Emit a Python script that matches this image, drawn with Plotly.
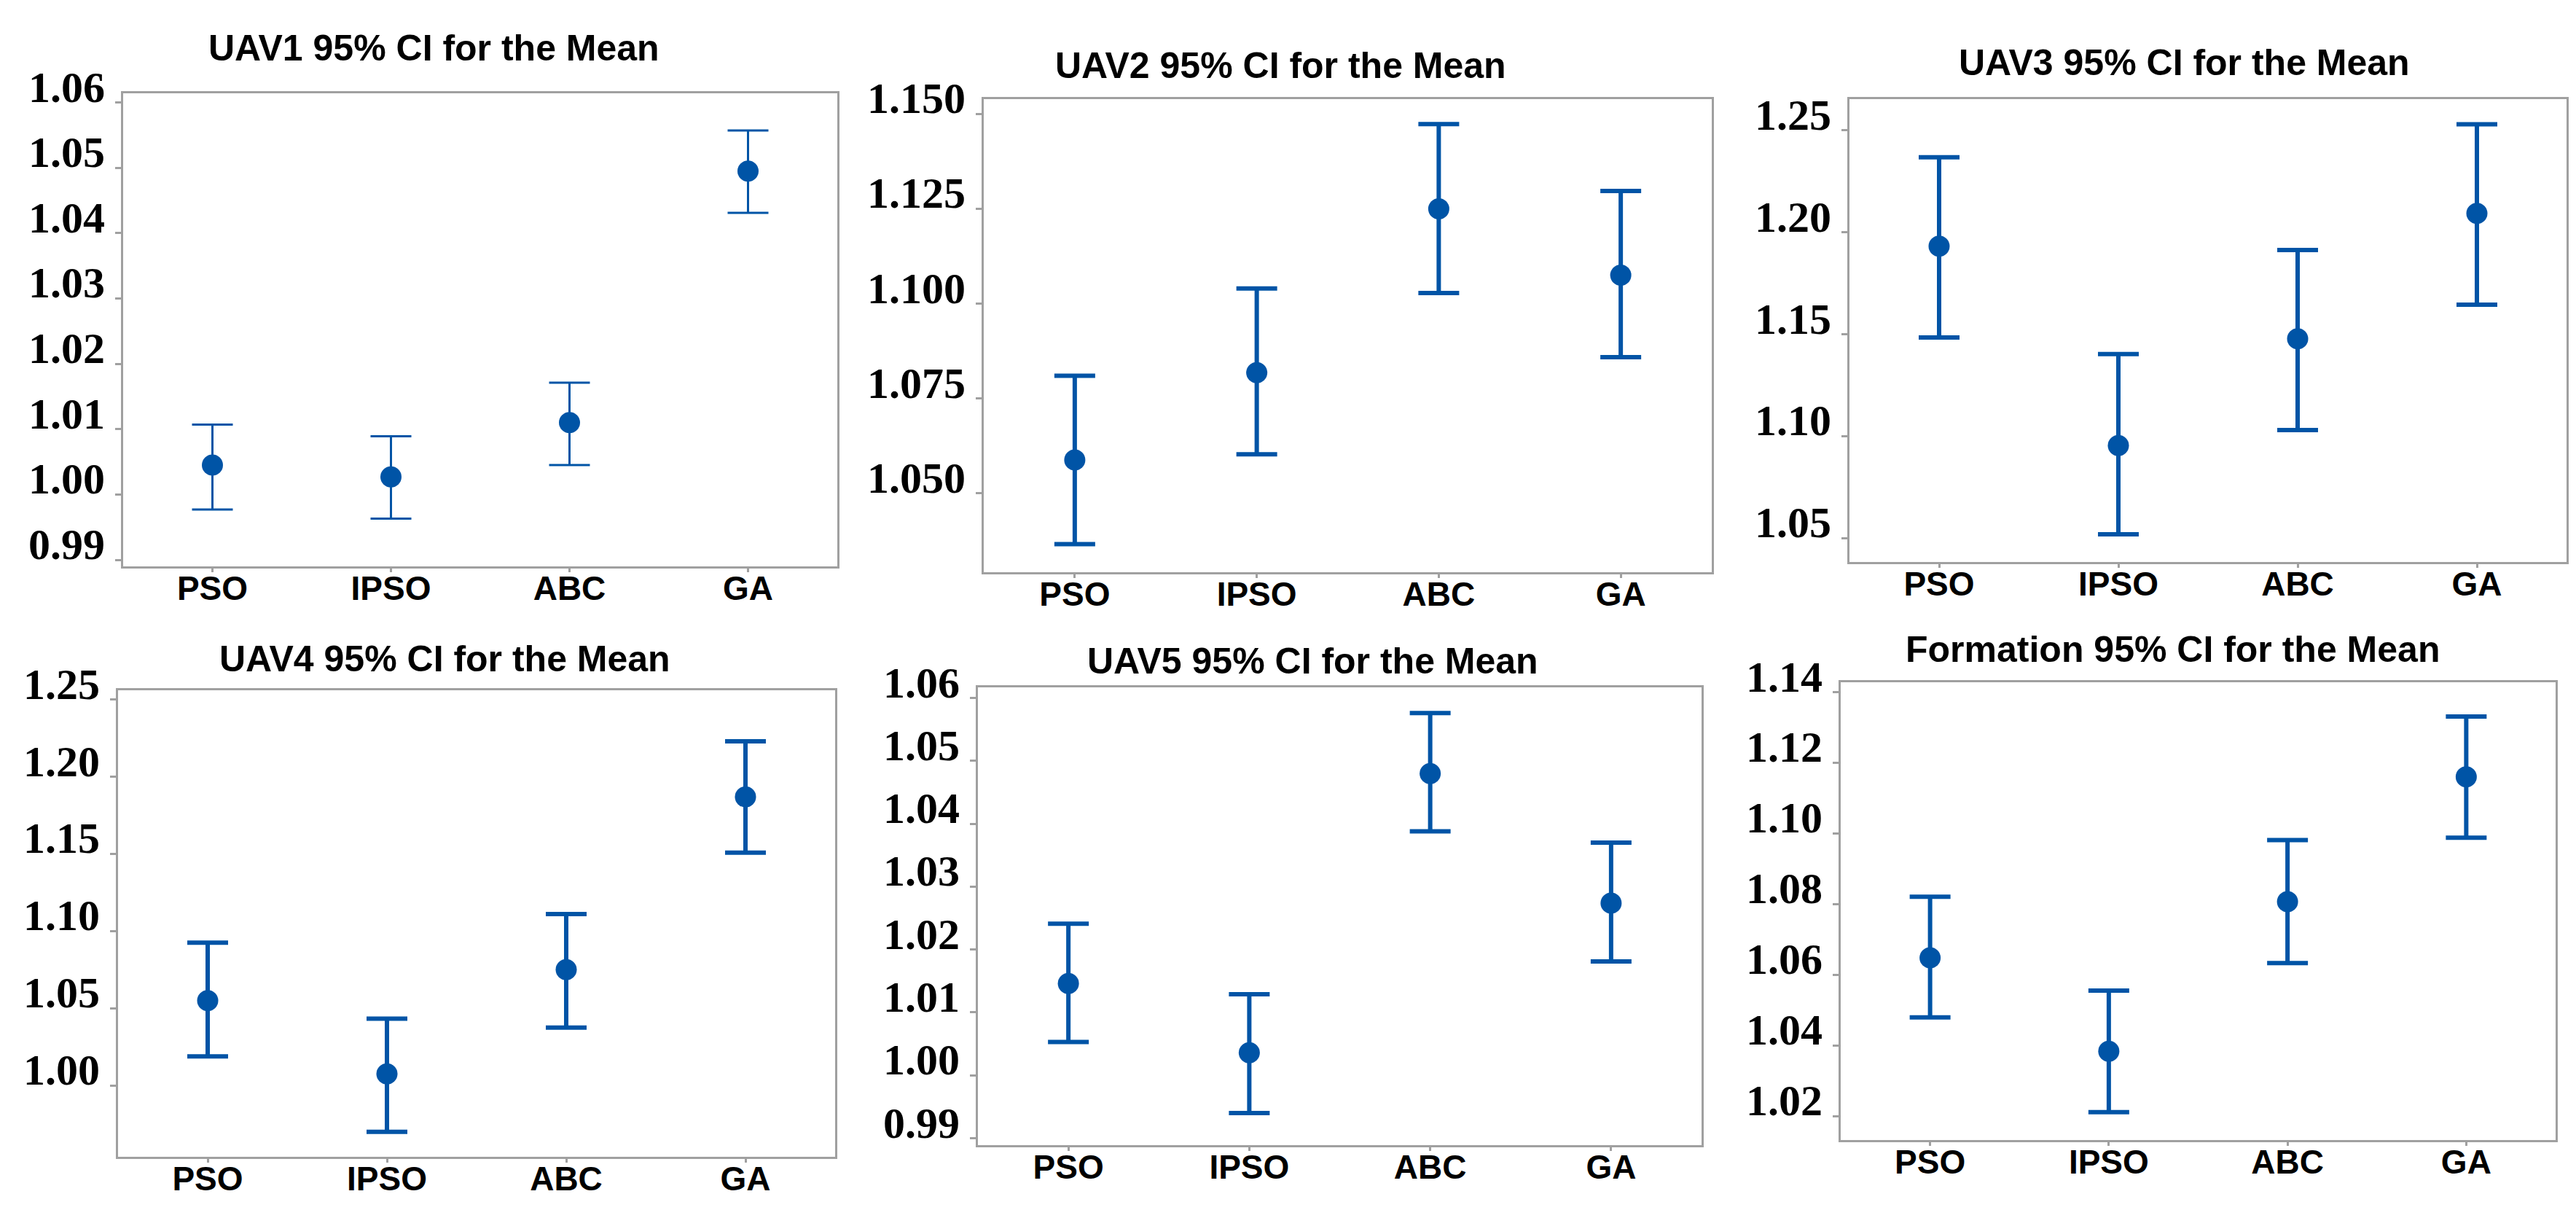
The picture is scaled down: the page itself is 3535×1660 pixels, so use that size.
import plotly.graph_objects as go

# ---------------- data ----------------
categories = ["PSO", "IPSO", "ABC", "GA"]

titles = [
    "UAV1 95% CI for the Mean",
    "UAV2 95% CI for the Mean",
    "UAV3 95% CI for the Mean",
    "UAV4 95% CI for the Mean",
    "UAV5 95% CI for the Mean",
    "Formation 95% CI for the Mean",
]

uav1_mean = [1.0045, 1.0027, 1.0110, 1.0495]
uav1_low = [0.9977, 0.9963, 1.0045, 1.0431]
uav1_high = [1.0107, 1.0089, 1.0171, 1.0557]

uav2_mean = [1.0588, 1.0818, 1.1250, 1.1075]
uav2_low = [1.0366, 1.0603, 1.1028, 1.0859]
uav2_high = [1.0810, 1.1040, 1.1473, 1.1297]

uav3_mean = [1.1932, 1.0954, 1.1478, 1.2093]
uav3_low = [1.1484, 1.0519, 1.1030, 1.1645]
uav3_high = [1.2368, 1.1403, 1.1913, 1.2530]

uav4_mean = [1.0550, 1.0075, 1.0750, 1.1870]
uav4_low = [1.0188, 0.9700, 1.0375, 1.1508]
uav4_high = [1.0925, 1.0433, 1.1110, 1.2230]

uav5_mean = [1.0146, 1.0036, 1.0480, 1.0274]
uav5_low = [1.0053, 0.9940, 1.0388, 1.0181]
uav5_high = [1.0241, 1.0129, 1.0576, 1.0370]

form_mean = [1.0648, 1.0383, 1.0807, 1.1160]
form_low = [1.0479, 1.0211, 1.0633, 1.0988]
form_high = [1.0821, 1.0555, 1.0981, 1.1331]

uav1_ticks = [0.99, 1.00, 1.01, 1.02, 1.03, 1.04, 1.05, 1.06]
uav2_ticks = [1.050, 1.075, 1.100, 1.125, 1.150]
uav3_ticks = [1.05, 1.10, 1.15, 1.20, 1.25]
uav4_ticks = [1.00, 1.05, 1.10, 1.15, 1.20, 1.25]
uav5_ticks = [0.99, 1.00, 1.01, 1.02, 1.03, 1.04, 1.05, 1.06]
form_ticks = [1.02, 1.04, 1.06, 1.08, 1.10, 1.12, 1.14]

# ---------------- layout / style ----------------
W, H = 3535, 1660
BLUE = "#0054a6"
GRAY = "#a0a0a0"

series = [
    (uav1_mean, uav1_low, uav1_high, uav1_ticks),
    (uav2_mean, uav2_low, uav2_high, uav2_ticks),
    (uav3_mean, uav3_low, uav3_high, uav3_ticks),
    (uav4_mean, uav4_low, uav4_high, uav4_ticks),
    (uav5_mean, uav5_low, uav5_high, uav5_ticks),
    (form_mean, form_low, form_high, form_ticks),
]

# plot boxes in pixels: (left, right, top, bottom)
boxes = [
    (161, 1141, 120, 769),
    (1342, 2341, 128, 777),
    (2530, 3514, 128, 763),
    (154, 1138, 939, 1579),
    (1334, 2327, 935, 1563),
    (2518, 3499, 928, 1556),
]
yranges = [
    [0.9890, 1.0614],
    [1.0292, 1.1539],
    [1.0383, 1.2653],
    [0.9538, 1.2560],
    [0.9889, 1.0617],
    [1.0132, 1.1428],
]
decimals = [2, 3, 2, 2, 2, 2]
title_pos = [(587, 58), (1749, 82), (2989, 78), (602, 896), (1793, 899), (2973, 883)]
line_widths = [3, 6, 6, 6, 6, 6]
LABEL_GAP = 23  # px between y tick labels and plot box

fig = go.Figure()
annotations = []

for i, ((mean, low, high, ticks), box) in enumerate(zip(series, boxes)):
    n = "" if i == 0 else str(i + 1)
    plus = [h - m for h, m in zip(high, mean)]
    minus = [m - l for m, l in zip(mean, low)]
    fig.add_trace(go.Scatter(
        x=categories, y=mean, mode="markers",
        marker=dict(size=29, color=BLUE, symbol="circle"),
        error_y=dict(type="data", symmetric=False, array=plus, arrayminus=minus,
                     color=BLUE, thickness=line_widths[i], width=28),
        xaxis="x" + n, yaxis="y" + n, showlegend=False,
    ))
    l, r, t, b = box
    axis_common = dict(
        showline=True, mirror=True, linecolor=GRAY, linewidth=3,
        ticks="outside", tickcolor=GRAY, tickwidth=3,
        showgrid=False, zeroline=False, automargin=False,
    )
    fig.layout["xaxis" + n] = dict(
        axis_common,
        domain=[l / W, r / W], anchor="y" + n,
        type="category", categoryorder="array", categoryarray=categories,
        range=[-0.5, 3.5], ticklen=5, ticklabelstandoff=-17,
        tickfont=dict(family="Liberation Sans, Arial", size=46, color="black", weight="bold"),
    )
    fig.layout["yaxis" + n] = dict(
        axis_common,
        domain=[1 - b / H, 1 - t / H], anchor="x" + n,
        range=yranges[i], tickvals=ticks, ticklen=8, showticklabels=False,
    )
    # y tick labels: baseline sitting on the tick, as in the reference
    for v in ticks:
        annotations.append(dict(
            text=f"{v:.{decimals[i]}f}", x=(l - LABEL_GAP) / W, y=v,
            xref="paper", yref="y" + n, xanchor="right", yanchor="bottom",
            yshift=-14, showarrow=False,
            font=dict(family="Liberation Serif, Times New Roman", size=60,
                      color="black", weight="bold"),
        ))
    tx, ty = title_pos[i]
    annotations.append(dict(
        text=titles[i], x=tx / W, y=1 - ty / H, xref="paper", yref="paper",
        xanchor="center", yanchor="middle", showarrow=False,
        font=dict(family="Liberation Sans, Arial", size=50, color="black", weight="bold"),
    ))

fig.update_layout(
    width=W, height=H,
    margin=dict(l=0, r=0, t=0, b=0, autoexpand=False),
    paper_bgcolor="white", plot_bgcolor="white",
    annotations=annotations,
)

fig.write_html("out.html")
